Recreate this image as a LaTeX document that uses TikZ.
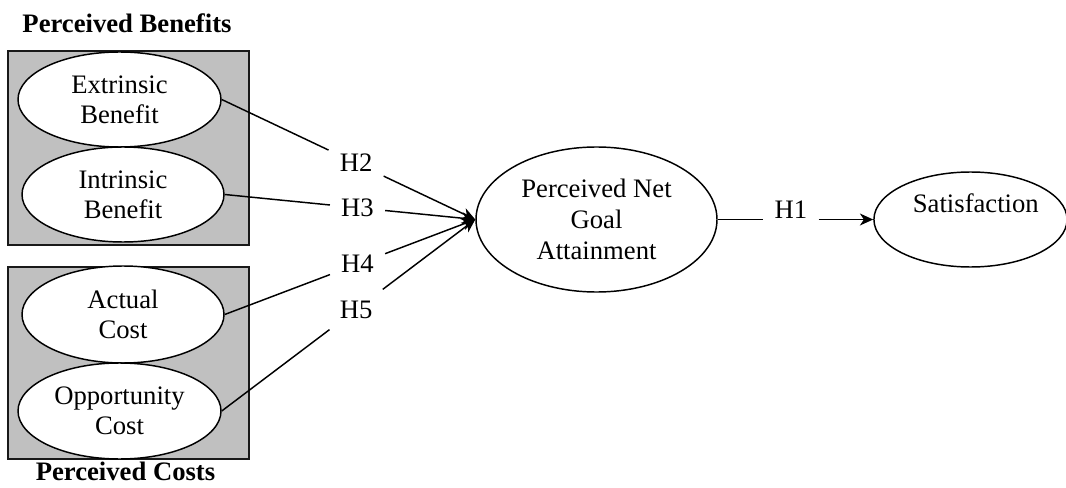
\documentclass[tikz,border=0pt]{standalone}
\usepackage{fontspec}
\setmainfont{Liberation Serif}
\usetikzlibrary{shapes.geometric,arrows.meta,calc}
\definecolor{boxgray}{HTML}{C0C0C0}
\newcommand\dfs{\fontsize{20}{22.5}\selectfont}
\tikzset{
  oval/.style={ellipse, draw, line width=1.1pt, fill=white, inner sep=0pt, align=center, font=\dfs},
  grp/.style={draw=black!90, fill=boxgray, line width=1pt},
  hyp/.style={inner sep=8.25pt, font=\dfs},
  link/.style={line width=1.1pt},
  arr/.style={link, -{Stealth[length=10pt,width=9pt,inset=3pt]}},
  ttl/.style={font=\bfseries\dfs, anchor=base},
}
\begin{document}
\begin{tikzpicture}[x=0.75pt,y=-0.75pt]
\useasboundingbox (0,0) rectangle (1066,488);
% group boxes
\draw[grp] (8,51) rectangle (249,245);
\draw[grp] (8,267) rectangle (249,459);
% titles
\node[ttl] (tb) at (127,33) {Perceived Benefits};
\node[ttl] (tc) at (125.5,480.5) {Perceived Costs};
% constructs
\node[oval, minimum width=152.25pt, minimum height=71.25pt] (ext) at (119.5,99.5) {Extrinsic\\Benefit};
\node[oval, minimum width=151.5pt, minimum height=71.25pt] (int) at (123,194.5) {Intrinsic\\Benefit};
\node[oval, minimum width=151.5pt, minimum height=72.75pt] (act) at (123,314.5) {Actual\\Cost};
\node[oval, minimum width=152.25pt, minimum height=72pt] (opp) at (119.5,411) {Opportunity\\Cost};
\node[oval, minimum width=180.75pt, minimum height=108.75pt, font=\fontsize{20}{23.25}\selectfont] (pnga) at (596.5,219.5) {Perceived Net\\Goal\\Attainment};
\node[oval, minimum width=141.75pt, minimum height=71.25pt, text height=13.5pt, text depth=23.5pt] (sat) at (970.5,219.5) {\hspace*{8pt}Satisfaction};
% hypothesis labels
\node[hyp] (h2) at ($(ext.east)!0.53!(pnga.west)$) {H2};
\node[hyp] (h3) at ($(int.east)!0.53!(pnga.west)$) {H3};
\node[hyp] (h4) at ($(act.east)!0.53!(pnga.west)$) {H4};
\node[hyp] (h5) at ($(opp.east)!0.53!(pnga.west)$) {H5};
\node[hyp, text height=13pt, text depth=15pt] (h1) at (791,219.5) {H1};
% connectors
\draw[link] (ext.east) -- (h2);
\draw[arr] (h2) -- (pnga.west);
\draw[link] (int.east) -- (h3);
\draw[arr] (h3) -- (pnga.west);
\draw[link] (act.east) -- (h4);
\draw[arr] (h4) -- (pnga.west);
\draw[link] (opp.east) -- (h5);
\draw[arr] (h5) -- (pnga.west);
\draw[link] (pnga.east) -- (h1);
\draw[arr] (h1) -- (sat.west);
\end{tikzpicture}
\end{document}
